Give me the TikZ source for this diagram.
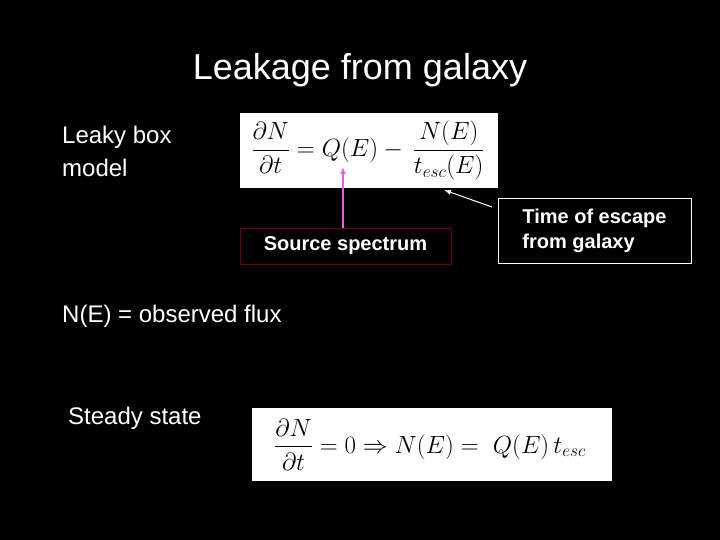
\documentclass[tikz,border=0pt]{standalone}
\usepackage{amsmath}
\usepackage{fontspec}
\setmainfont{Liberation Sans}
\usetikzlibrary{arrows.meta}
\begin{document}
\begin{tikzpicture}[x=1pt,y=-1pt,
  txt/.style={text=white,anchor=west,inner sep=0pt,align=left},
  lbl/.style={text=white,font=\fontsize{20}{24}\selectfont\bfseries,align=left}]
\fill[black] (0,0) rectangle (720,540);
\useasboundingbox (0,0) rectangle (720,540);
\node[text=white,font=\fontsize{36}{40}\selectfont] (title) at (360,70) {Leakage from galaxy};
\node[txt,font=\fontsize{24}{33}\selectfont] (lb) at (62,151) {Leaky box\\model};
\fill[white] (240,113) rectangle (498,188);
\node[inner sep=0pt,font=\fontsize{26}{30}\selectfont] (eq1) at (368,150.5) {$\dfrac{\partial N}{\partial t}=Q(E)-\,\dfrac{N(E)}{t_{esc}(E)}$};
\node[lbl,draw=red!45!black,line width=0.8pt,minimum width=211pt,minimum height=36pt,inner sep=0pt] (src) at (345.5,246) {Source spectrum};
\node[lbl,draw=white,line width=0.8pt,minimum width=193pt,minimum height=65pt,inner sep=0pt,font=\fontsize{20}{25}\selectfont\bfseries] (tesc) at (594.5,230.5) {Time of escape\\from galaxy};
\coordinate (qe) at (343,167);
\coordinate (te) at (444,190);
\draw[-{Latex[length=7pt,width=6pt]},violet!40!magenta!60!white,line width=1.3pt] (src.north -| qe) -- (qe);
\draw[-{Latex[length=7pt,width=5pt]},white,line width=1pt] (492,207) -- (te);
\node[txt,font=\fontsize{24}{28}\selectfont] (ne) at (62,316) {N(E) = observed flux};
\node[txt,font=\fontsize{24}{28}\selectfont] (ss) at (68,418) {Steady state};
\fill[white] (252,408) rectangle (612,481);
\node[inner sep=0pt,font=\fontsize{26}{30}\selectfont] (eq2) at (430,444.5) {$\dfrac{\partial N}{\partial t}=0\Rightarrow N(E)=\ Q(E)\,t_{esc}$};
\end{tikzpicture}
\end{document}
